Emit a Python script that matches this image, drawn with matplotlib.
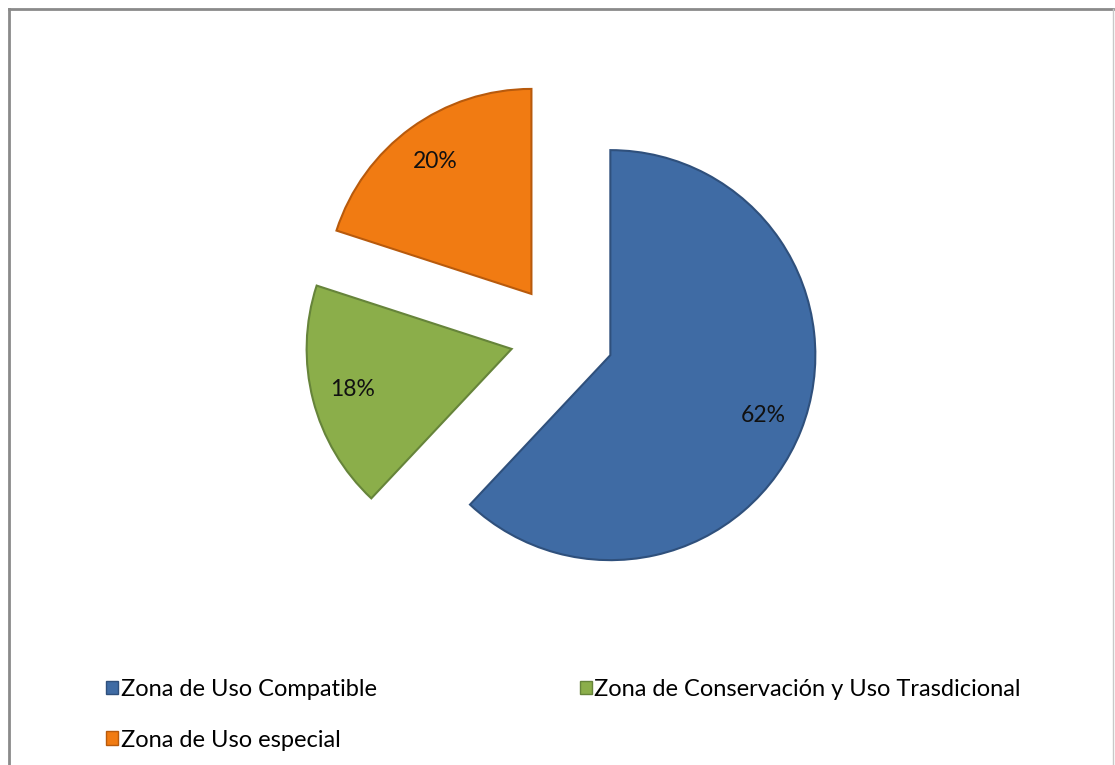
import matplotlib.pyplot as plt
from matplotlib.patches import Patch
from matplotlib.lines import Line2D

categories = ["Zona de Uso Compatible", "Zona de Conservación y Uso Trasdicional", "Zona de Uso especial"]
shares = [62, 18, 20]
colors = ["#3F6BA4", "#8BAE4A", "#F17B12"]
edges = ["#2F507C", "#66843A", "#B85A0C"]

W, H = 1115, 765
plt.rcParams["font.family"] = ["Lato", "DejaVu Sans"]

fig = plt.figure(figsize=(W / 100, H / 100), dpi=100)
ax = fig.add_axes([0, 0, 1, 1])

# explode is in data units here (axes data = pixels)
wedges, texts, autotexts = ax.pie(
    shares,
    colors=colors,
    explode=[52, 52, 52],
    startangle=90,
    counterclock=False,
    center=(562, H - 336),
    radius=205,
    autopct="%1.0f%%",
    pctdistance=0.8,
    wedgeprops=dict(linewidth=1.5),
    textprops=dict(fontsize=16.5, color="#111111"),
    frame=True,
)
for w, ec in zip(wedges, edges):
    w.set_edgecolor(ec)
ax.set_xlim(0, W)
ax.set_ylim(0, H)
ax.set_aspect("equal")
ax.axis("off")

# chart border (left, top, right)
fig.add_artist(Line2D([9 / W, 9 / W], [0, 1 - 9 / H], transform=fig.transFigure, color="#8a8a8a", lw=2))
fig.add_artist(Line2D([9 / W, 1113 / W], [1 - 9 / H, 1 - 9 / H], transform=fig.transFigure, color="#8a8a8a", lw=2))
fig.add_artist(Line2D([1113 / W, 1113 / W], [0, 1 - 9 / H], transform=fig.transFigure, color="#c8c8c8", lw=1))

handles = [Patch(facecolor=c, edgecolor=e, label=l) for c, e, l in zip(colors, edges, categories)]
order = [0, 2, 1]
fig.legend(
    [handles[i] for i in order],
    [categories[i] for i in order],
    ncol=2,
    loc="upper left",
    bbox_to_anchor=(106 / W, 1 - 679 / H),
    frameon=False,
    fontsize=17,
    handlelength=0.5,
    handleheight=0.5,
    handletextpad=0.12,
    columnspacing=8.6,
    labelspacing=1.25,
    borderaxespad=0,
    borderpad=0,
)

fig.savefig("out.png", dpi=100)
